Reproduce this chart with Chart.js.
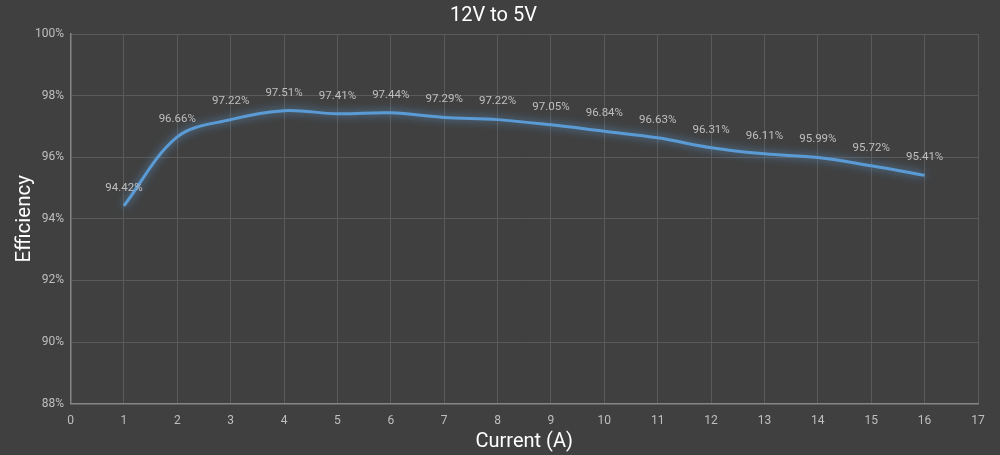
<!DOCTYPE html>
<html>
<head>
<meta charset="utf-8">
<script src="https://cdn.jsdelivr.net/npm/chart.js@4"></script>
<style>
html,body{margin:0;padding:0;background:#404040;}
#wrap{width:1000px;height:455px;}
</style>
</head>
<body>
<div id="wrap"><canvas id="c" width="1000" height="455"></canvas></div>
<script>
const currents = [1,2,3,4,5,6,7,8,9,10,11,12,13,14,15,16];
const efficiency = [94.42,96.66,97.22,97.51,97.41,97.44,97.29,97.22,97.05,96.84,96.63,96.31,96.11,95.99,95.72,95.41];
const chartTitle = '12V to 5V';
const xTitle = 'Current (A)';
const yTitle = 'Efficiency';

const points = currents.map((x,i)=>({x:x,y:efficiency[i]}));

const glowPlugin = {
  id:'glow',
  beforeDatasetDraw(chart){
    const ctx = chart.ctx;
    ctx.save();
    ctx.shadowColor = 'rgba(91,155,213,0.9)';
    ctx.shadowBlur = 9;
  },
  afterDatasetDraw(chart){
    chart.ctx.restore();
  }
};

const labelPlugin = {
  id:'valueLabels',
  afterDatasetsDraw(chart){
    const ctx = chart.ctx;
    const xs = chart.scales.x, ys = chart.scales.y;
    ctx.save();
    ctx.fillStyle = '#bfbfbf';
    ctx.font = '11.5px Roboto, "Open Sans", sans-serif';
    ctx.textAlign = 'center';
    ctx.textBaseline = 'middle';
    points.forEach(p=>{
      const px = xs.getPixelForValue(p.x);
      const py = ys.getPixelForValue(p.y);
      ctx.fillText(p.y.toFixed(2)+'%', px, py-18);
    });
    ctx.restore();
  }
};

new Chart(document.getElementById('c'), {
  type:'line',
  data:{
    datasets:[{
      data:points,
      borderColor:'#5b9bd5',
      borderWidth:3,
      pointRadius:0,
      fill:false,
      tension:0.35
    }]
  },
  options:{
    responsive:false,
    animation:false,
    layout:{padding:{left:9,right:22,top:0,bottom:3}},
    plugins:{
      legend:{display:false},
      tooltip:{enabled:false},
      title:{
        display:true,
        text:chartTitle,
        color:'#ffffff',
        font:{family:'Roboto',size:20,weight:'normal'},
        padding:{top:4,bottom:6}
      }
    },
    scales:{
      x:{
        type:'linear',
        min:0,max:17,
        ticks:{stepSize:1,color:'#bfbfbf',font:{family:'Roboto',size:12},padding:1},
        grid:{color:'#5a5a5a',drawTicks:true,tickLength:9,tickColor:'transparent'},
        border:{color:'#858585',width:1.5},
        title:{display:true,text:xTitle,color:'#ffffff',font:{family:'Roboto',size:20,lineHeight:1},padding:{top:3,bottom:0}}
      },
      y:{
        min:88,max:100,
        ticks:{stepSize:2,color:'#bfbfbf',font:{family:'Roboto',size:12},padding:0,callback:v=>v+'%'},
        grid:{color:'#5a5a5a',drawTicks:true,tickLength:6.5,tickColor:'transparent'},
        border:{color:'#858585',width:1.5},
        title:{display:true,text:yTitle,color:'#ffffff',font:{family:'Roboto',size:20.5,lineHeight:1},padding:{top:5.5,bottom:0}}
      }
    }
  },
  plugins:[glowPlugin,labelPlugin]
});
</script>
</body>
</html>
